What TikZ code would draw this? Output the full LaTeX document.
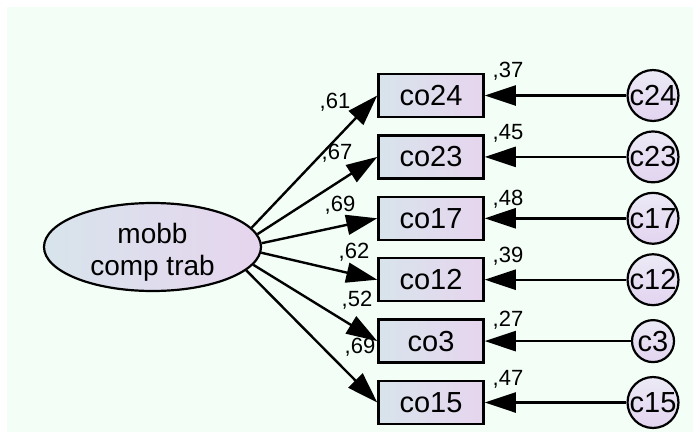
\documentclass[tikz,border=0pt]{standalone}
\usepackage{fontspec}
\setmainfont{Liberation Sans}
\usetikzlibrary{arrows.meta,shapes.geometric}
\definecolor{bgmint}{RGB}{243,254,247}
\definecolor{fillL}{RGB}{216,228,236}
\definecolor{fillR}{RGB}{230,213,238}
\definecolor{circT}{RGB}{236,234,246}
\definecolor{circB}{RGB}{226,212,240}
\tikzset{
  obsbox/.style={draw=black, line width=2.5pt, minimum width=105pt, minimum height=43pt,
    inner sep=0pt, left color=fillL, right color=fillR, font=\fontsize{29}{32}\selectfont},
  latent/.style={ellipse, draw=black, line width=2.2pt, minimum width=217pt, minimum height=88pt,
    inner sep=0pt, left color=fillL, right color=fillR},
  lattext/.style={align=center, inner sep=0pt, font=\fontsize{28}{32}\selectfont},
  errc/.style={circle, draw=black, line width=2.2pt, minimum size=42pt, inner sep=0pt,
    top color=circT, bottom color=circB, font=\fontsize{29}{32}\selectfont},
  lpath/.style={line width=2.4pt, -{Triangle[length=31pt,width=20pt]}},
  coef/.style={font=\fontsize{22}{24}\selectfont, inner sep=0pt}
}
\begin{document}
\begin{tikzpicture}[x=1pt,y=-1pt]
\path[use as bounding box, fill=white] (0,0) rectangle (693,439);
\fill[bgmint] (7,7) rectangle (693,432);
% latent
\node[latent] (e) at (152.5,247) {};
\node[lattext] (et) at (152.5,252) {mobb\\comp trab};
% observed boxes
\node[obsbox] (b24) at (431,95.5) {co24};
\node[obsbox] (b23) at (431,156.9) {co23};
\node[obsbox] (b17) at (431,218.3) {co17};
\node[obsbox] (b12) at (431,279.7) {co12};
\node[obsbox] (b3)  at (431,341.1) {co3};
\node[obsbox] (b15) at (431,402.5) {co15};
% error circles
\node[errc] (c24) at (653,95.5) {c24};
\node[errc] (c23) at (653,156.9) {c23};
\node[errc] (c17) at (653,218.3) {c17};
\node[errc] (c12) at (653,279.7) {c12};
\node[errc] (c3)  at (653,341.1) {c3};
\node[errc] (c15) at (653,402.5) {c15};
% loadings
\draw[lpath] (e.11) -- (b24.west);
\draw[lpath] (e.7.5) -- (b23.west);
\draw[lpath] (e.2) -- (b17.west);
\draw[lpath] (e.-3) -- (b12.west);
\draw[lpath] (e.-10.5) -- (b3.west);
\draw[lpath] (e.-14) -- (b15.west);
% errors
\draw[lpath] (c24) -- (b24.east);
\draw[lpath] (c23) -- (b23.east);
\draw[lpath] (c17) -- (b17.east);
\draw[lpath] (c12) -- (b12.east);
\draw[lpath] (c3) -- (b3.east);
\draw[lpath] (c15) -- (b15.east);
% loading labels
\node[coef] (l24) at (335,102) {,61};
\node[coef] (l23) at (337,153) {,67};
\node[coef] (l17) at (340,205) {,69};
\node[coef] (l12) at (354,252) {,62};
\node[coef] (l3)  at (357,300) {,52};
\node[coef] (l15) at (360,347) {,69};
% R2 labels
\node[coef] (r24) at (508,71) {,37};
\node[coef] (r23) at (508,133) {,45};
\node[coef] (r17) at (508,199) {,48};
\node[coef] (r12) at (508,256) {,39};
\node[coef] (r3)  at (508,320) {,27};
\node[coef] (r15) at (508,379) {,47};
\end{tikzpicture}
\end{document}
